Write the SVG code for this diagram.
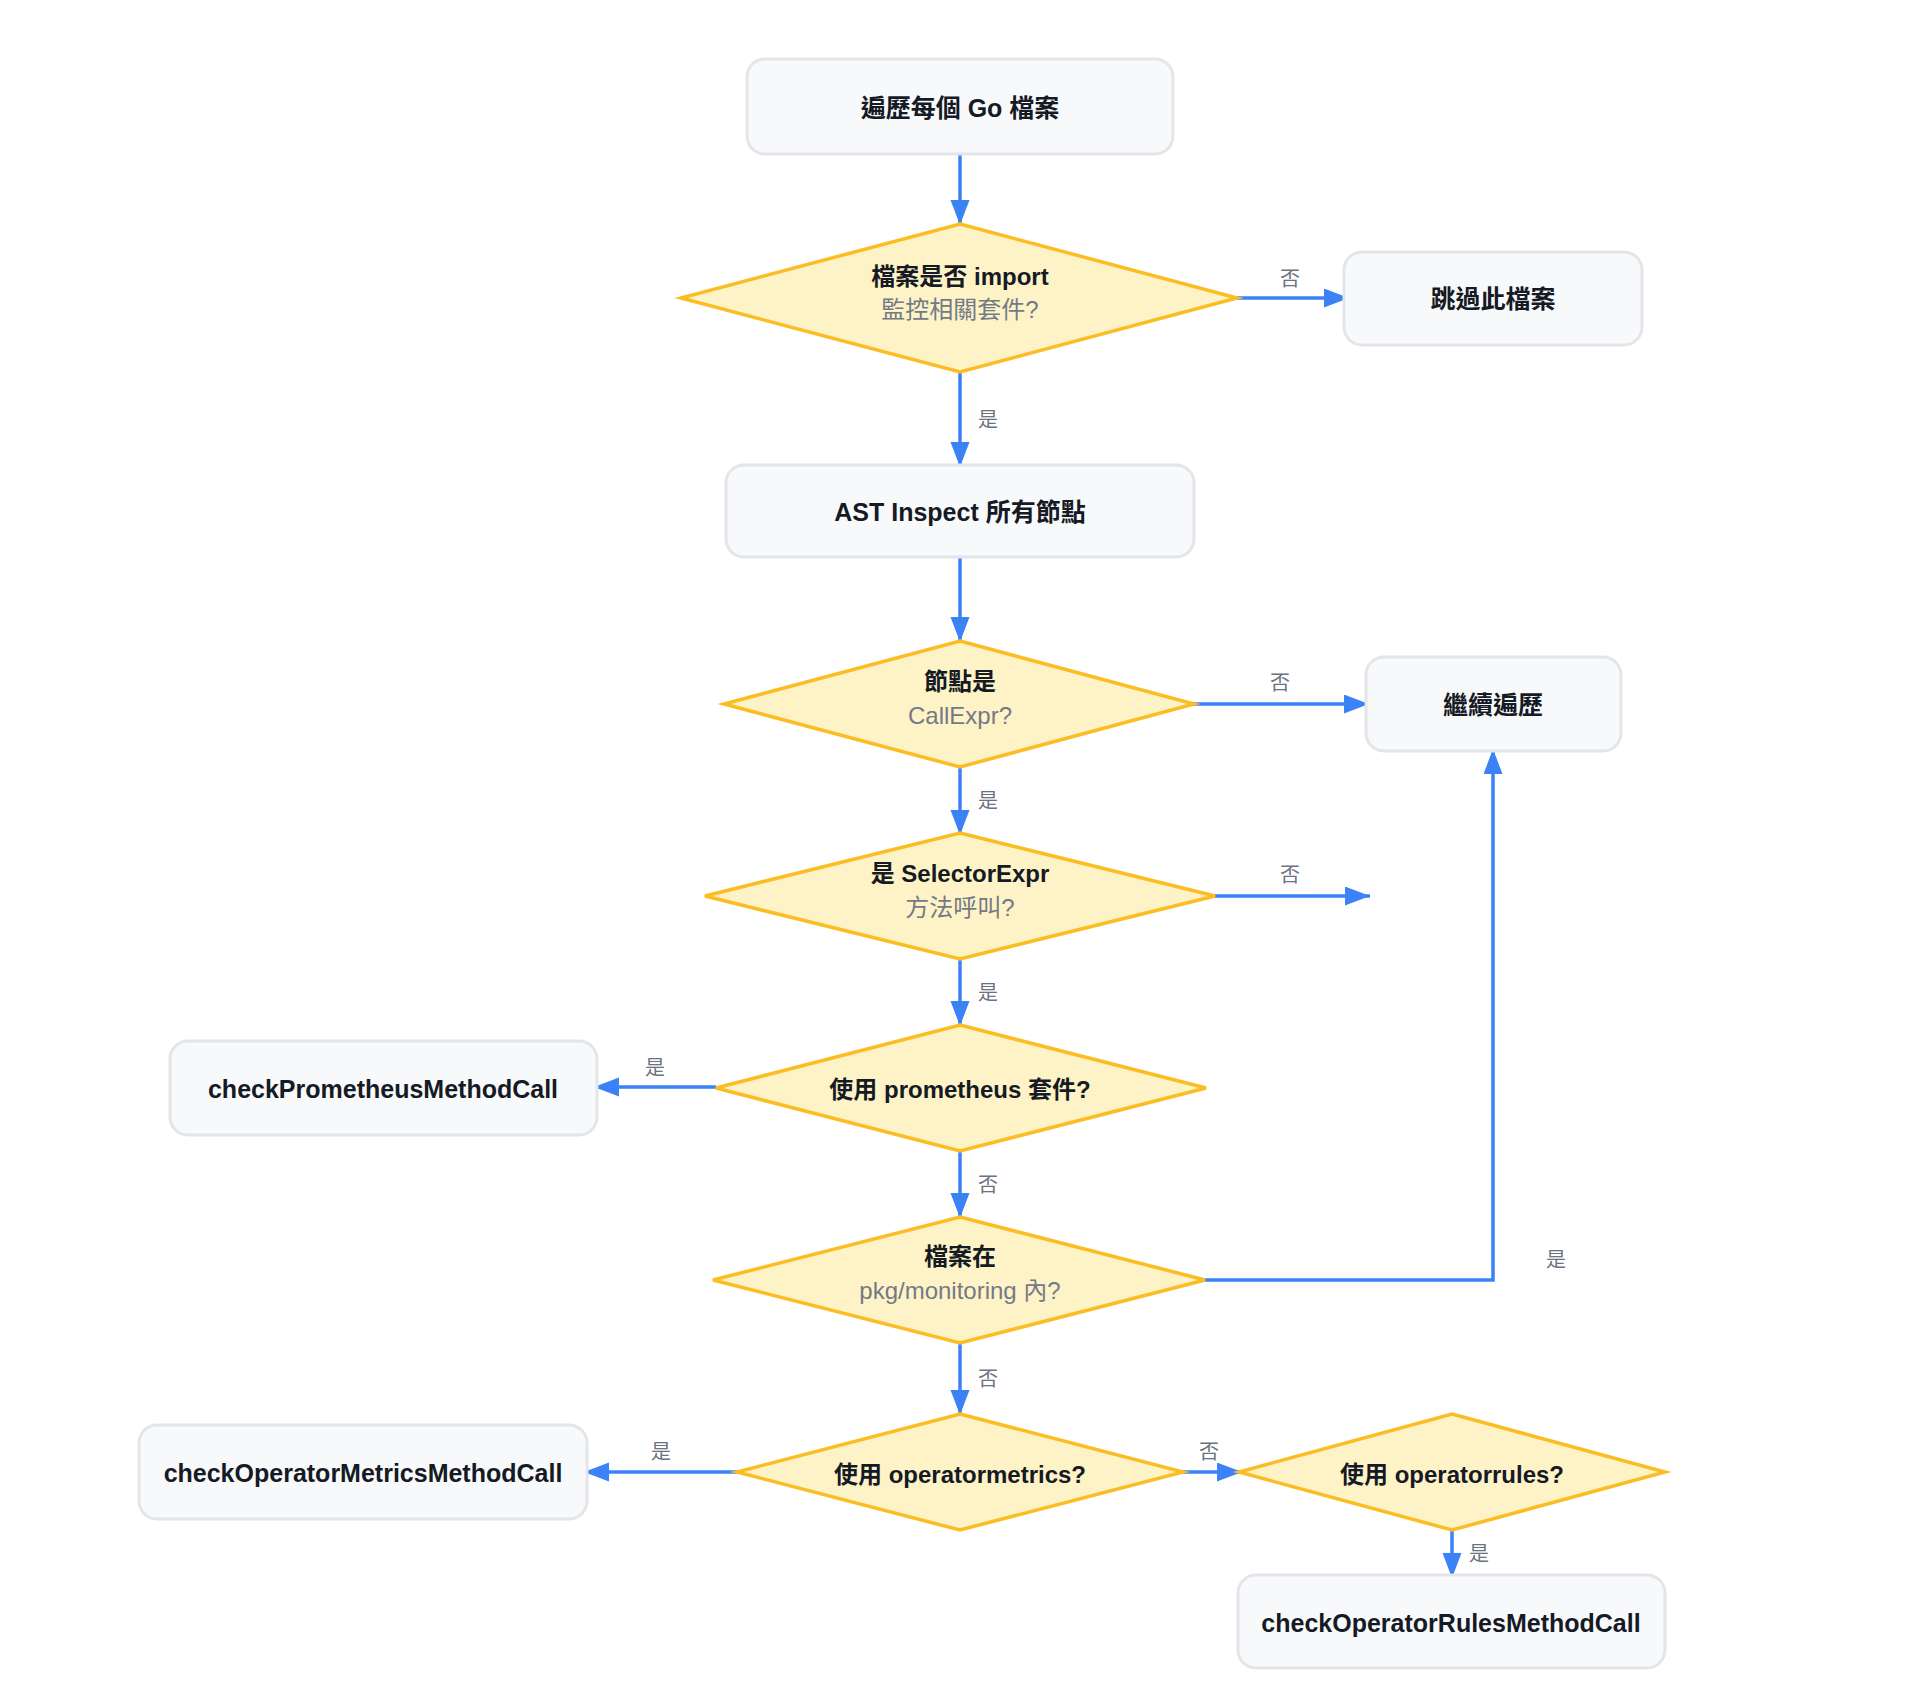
<svg xmlns="http://www.w3.org/2000/svg" width="1920" height="1707" viewBox="0 0 1920 1707">
<style>
.box{fill:#f8f9fb;stroke:#e3e5e9;stroke-width:3}
.dia{fill:#fef3c6;stroke:#fbbd23;stroke-width:3.5;stroke-linejoin:miter}
.t{font-family:"Liberation Sans","Noto Sans CJK TC",sans-serif;font-size:25px;font-weight:bold;fill:#151a24;text-anchor:middle}
.d1{font-family:"Liberation Sans","Noto Sans CJK TC",sans-serif;font-size:24px;font-weight:bold;fill:#151a24;text-anchor:middle}
.d2{font-family:"Liberation Sans","Noto Sans CJK TC",sans-serif;font-size:24px;fill:#737a86;text-anchor:middle}
.lb{font-family:"Liberation Sans","Noto Sans CJK TC",sans-serif;font-size:20px;fill:#6b7280;text-anchor:middle}
.c{fill:none;stroke:#3b82f6;stroke-width:3.5}
</style>
<defs>
<marker id="ah" markerUnits="userSpaceOnUse" markerWidth="26" markerHeight="20" refX="25" refY="9.5" orient="auto">
<path d="M0,0 L25,9.5 L0,19 z" fill="#3b82f6"/>
</marker>
</defs>
<rect width="1920" height="1707" fill="#ffffff"/>

<g id="connectors">
<path class="c" d="M960,154 L960,225" marker-end="url(#ah)"/>
<path class="c" d="M1237,298 L1349,298" marker-end="url(#ah)"/>
<path class="c" d="M960,372 L960,467" marker-end="url(#ah)"/>
<path class="c" d="M960,557 L960,642" marker-end="url(#ah)"/>
<path class="c" d="M1194,704 L1369,704" marker-end="url(#ah)"/>
<path class="c" d="M960,767 L960,835" marker-end="url(#ah)"/>
<path class="c" d="M1215,896 L1370,896" marker-end="url(#ah)"/>
<path class="c" d="M960,959 L960,1026" marker-end="url(#ah)"/>
<path class="c" d="M716,1087 L594,1087" marker-end="url(#ah)"/>
<path class="c" d="M960,1151 L960,1218" marker-end="url(#ah)"/>
<path class="c" d="M1205,1280 L1493,1280 L1493,749" marker-end="url(#ah)"/>
<path class="c" d="M960,1343 L960,1415" marker-end="url(#ah)"/>
<path class="c" d="M737,1472 L584,1472" marker-end="url(#ah)"/>
<path class="c" d="M1183,1472 L1242,1472" marker-end="url(#ah)"/>
<path class="c" d="M1452,1530 L1452,1578" marker-end="url(#ah)"/>
<text class="lb" x="1290" y="286">否</text>
<text class="lb" x="988" y="427">是</text>
<text class="lb" x="1280" y="690">否</text>
<text class="lb" x="988" y="808">是</text>
<text class="lb" x="1290" y="882">否</text>
<text class="lb" x="988" y="1000">是</text>
<text class="lb" x="655" y="1075">是</text>
<text class="lb" x="988" y="1192">否</text>
<text class="lb" x="1556" y="1267">是</text>
<text class="lb" x="988" y="1386">否</text>
<text class="lb" x="661" y="1459">是</text>
<text class="lb" x="1209" y="1459">否</text>
<text class="lb" x="1479" y="1561">是</text>
</g>

<g id="n1">
<rect class="box" x="747" y="59" width="426" height="95" rx="18"/>
<text class="t" x="960" y="117">遍歷每個 Go 檔案</text>
</g>
<g id="n2">
<polygon class="dia" points="960,224 1237,298 960,372 681,298"/>
<text class="d1" x="960" y="285">檔案是否 import</text>
<text class="d2" x="960" y="318">監控相關套件?</text>
</g>
<g id="n3">
<rect class="box" x="1344" y="252" width="298" height="93" rx="18"/>
<text class="t" x="1493" y="308">跳過此檔案</text>
</g>
<g id="n4">
<rect class="box" x="726" y="465" width="468" height="92" rx="18"/>
<text class="t" x="960" y="521">AST Inspect 所有節點</text>
</g>
<g id="n5">
<polygon class="dia" points="960,641 1194,704 960,767 724,704"/>
<text class="d1" x="960" y="690">節點是</text>
<text class="d2" x="960" y="724">CallExpr?</text>
</g>
<g id="n6">
<rect class="box" x="1366" y="657" width="255" height="94" rx="18"/>
<text class="t" x="1493" y="714">繼續遍歷</text>
</g>
<g id="n7">
<polygon class="dia" points="960,833 1215,896 960,959 705,896"/>
<text class="d1" x="960" y="882">是 SelectorExpr</text>
<text class="d2" x="960" y="916">方法呼叫?</text>
</g>
<g id="n8">
<polygon class="dia" points="960,1025 1206,1088 960,1151 716,1088"/>
<text class="d1" x="960" y="1098">使用 prometheus 套件?</text>
</g>
<g id="n9">
<rect class="box" x="170" y="1041" width="427" height="94" rx="18"/>
<text class="t" x="383" y="1098">checkPrometheusMethodCall</text>
</g>
<g id="n10">
<polygon class="dia" points="960,1217 1205,1280 960,1343 713,1280"/>
<text class="d1" x="960" y="1265">檔案在</text>
<text class="d2" x="960" y="1299">pkg/monitoring 內?</text>
</g>
<g id="n11">
<polygon class="dia" points="960,1414 1183,1472 960,1530 737,1472"/>
<text class="d1" x="960" y="1483">使用 operatormetrics?</text>
</g>
<g id="n12">
<rect class="box" x="139" y="1425" width="448" height="94" rx="18"/>
<text class="t" x="363" y="1482">checkOperatorMetricsMethodCall</text>
</g>
<g id="n13">
<polygon class="dia" points="1452,1414 1665,1472 1452,1530 1239,1472"/>
<text class="d1" x="1452" y="1483">使用 operatorrules?</text>
</g>
<g id="n14">
<rect class="box" x="1238" y="1575" width="427" height="93" rx="18"/>
<text class="t" x="1451" y="1632">checkOperatorRulesMethodCall</text>
</g>
</svg>
